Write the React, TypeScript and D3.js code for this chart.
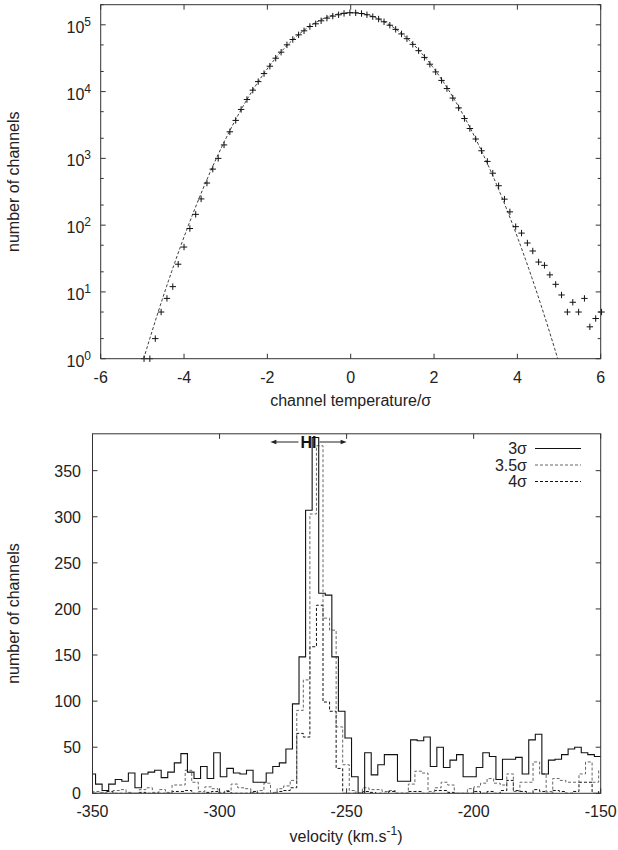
import React from 'react';
import * as d3 from 'd3';

// ---- upper panel: distribution of channel temperatures ----
const TEMP_SIGMA = [
  -4.96, -4.82, -4.69, -4.55, -4.41, -4.27, -4.14, -4.0, -3.86, -3.72,
  -3.59, -3.45, -3.31, -3.18, -3.04, -2.9, -2.76, -2.63, -2.49, -2.35,
  -2.22, -2.08, -1.94, -1.8, -1.67, -1.53, -1.39, -1.25, -1.12, -0.98,
  -0.84, -0.71, -0.57, -0.43, -0.29, -0.16, -0.02, 0.12, 0.26, 0.39,
  0.53, 0.67, 0.8, 0.94, 1.08, 1.22, 1.35, 1.49, 1.63, 1.77,
  1.9, 2.04, 2.18, 2.31, 2.45, 2.59, 2.73, 2.86, 3.0, 3.14,
  3.28, 3.41, 3.55, 3.69, 3.82, 3.96, 4.1, 4.24, 4.37, 4.51,
  4.65, 4.78, 4.92, 5.06, 5.2, 5.33, 5.47, 5.61, 5.74, 5.88, 6.02,
];
const TEMP_COUNTS = [
  1, 1, 2, 5, 8, 12, 26, 47, 89, 145,
  247, 427, 690, 1000, 1590, 2500, 3700, 5400, 7600, 10500,
  14100, 18600, 24000, 31600, 38900, 50100, 60300, 70800, 81300, 94400,
  103500, 114800, 125900, 134900, 141300, 148000, 151500, 151000, 147500, 141500,
  132500, 122000, 111000, 98500, 85500, 73000, 62000, 51000, 41000, 32500,
  25700, 19700, 14700, 11100, 8000, 5700, 3950, 2800, 1950, 1300,
  900, 600, 389, 245, 158, 95, 76, 54, 41, 28,
  25, 18, 13, 9, 5, 7, 5, 8, 3, 4, 5,
];
// Gaussian fit: amplitude and width (in units of sigma)
const FIT_AMPLITUDE = 1.52e5;
const FIT_WIDTH = 1.017;
const TEMP_X_TICKS = [-6, -4, -2, 0, 2, 4, 6];
const TEMP_Y_DECADES = [0, 1, 2, 3, 4, 5];
const TEMP_Y_MINOR = [2, 5];

// ---- lower panel: velocity histograms of channels above threshold ----
const BIN_WIDTH = 2.583;
const SOLID_FIRST_EDGE = -351.38;
const DASHED_FIRST_EDGE = -349.69;
const COUNTS_3SIGMA = [
  21, 10, 3, 10, 15, 13, 22, 6, 21, 23,
  25, 17, 23, 33, 43, 23, 16, 29, 16, 44,
  18, 27, 22, 21, 25, 12, 12, 22, 29, 33,
  48, 97, 148, 307, 386, 217, 215, 148, 89, 60,
  18, 0, 44, 20, 31, 42, 42, 13, 13, 58,
  57, 61, 29, 50, 28, 36, 42, 18, 18, 28,
  44, 40, 15, 37, 37, 39, 21, 58, 64, 21,
  36, 37, 42, 48, 50, 44, 42, 40,
];
const COUNTS_35SIGMA = [
  2, 1, 0, 3, 4, 1, 0, 4, 6, 1,
  4, 1, 9, 9, 25, 12, 2, 7, 5, 1,
  3, 10, 6, 5, 1, 3, 11, 1, 5, 8,
  14, 90, 123, 303, 377, 190, 177, 72, 31, 3,
  0, 6, 4, 4, 2, 3, 0, 0, 10, 24,
  22, 2, 6, 12, 9, 0, 0, 5, 7, 11,
  16, 11, 9, 21, 2, 12, 12, 34, 21, 2,
  16, 14, 12, 12, 21, 34, 12, 25,
];
const COUNTS_4SIGMA = [
  0, 0, 2, 0, 0, 0, 0, 1, 0, 0,
  0, 0, 2, 2, 3, 0, 0, 1, 2, 0,
  2, 0, 0, 0, 2, 0, 0, 0, 2, 3,
  6, 65, 61, 159, 204, 99, 89, 27, 0, 0,
  0, 2, 1, 0, 0, 2, 0, 0, 2, 2,
  0, 0, 3, 3, 1, 0, 0, 0, 2, 0,
  2, 0, 3, 14, 3, 2, 0, 4, 2, 0,
  3, 2, 0, 2, 12, 12, 0, 3,
];
const VEL_TICKS = [-350, -300, -250, -200, -150];
const CHAN_TICKS = [0, 50, 100, 150, 200, 250, 300, 350];
const HI_RANGE = [-280, -250];
const LEGEND_LABELS = ['3σ', '3.5σ', '4σ'];

const FONT = '"Liberation Sans", Arial, Helvetica, sans-serif';
const FRAME = '#333';
const FS = 16;

function stepPath(
  first: number,
  values: number[],
  x: d3.ScaleLinear<number, number>,
  y: d3.ScaleLinear<number, number>,
) {
  const p = d3.path();
  p.moveTo(x(first), y(0));
  values.forEach((v, i) => {
    const x0 = x(first + i * BIN_WIDTH);
    const x1 = x(first + (i + 1) * BIN_WIDTH);
    p.lineTo(x0, y(v));
    p.lineTo(x1, y(v));
  });
  return p.toString();
}

export default function App() {
  // upper panel scales
  const tx = d3.scaleLinear().domain([-6, 6]).range([100.7, 600.7]);
  const ty = d3.scaleLog().domain([1, 2e5]).range([358.7, 4.7]);
  const [tL, tR] = tx.range();
  const [tB, tT] = ty.range();

  const xEdge = FIT_WIDTH * Math.sqrt(2 * Math.log(FIT_AMPLITUDE));
  const fitPts: [number, number][] = d3
    .range(-xEdge, xEdge + 1e-9, xEdge / 200)
    .map((s) => [s, FIT_AMPLITUDE * Math.exp(-(s * s) / (2 * FIT_WIDTH * FIT_WIDTH))]);
  const fitLine = d3
    .line<[number, number]>()
    .x((d) => tx(d[0]))
    .y((d) => ty(Math.max(1, d[1])));

  const minorVals: number[] = [];
  TEMP_Y_DECADES.forEach((d) =>
    TEMP_Y_MINOR.forEach((m) => {
      const v = m * Math.pow(10, d);
      if (v <= 2e5) minorVals.push(v);
    }),
  );

  // lower panel scales
  const vx = d3.scaleLinear().domain([-350, -150]).range([92.5, 600.7]);
  const cy = d3.scaleLinear().domain([0, 390]).range([793.3, 433.8]);
  const [bL, bR] = vx.range();
  const [bB, bT] = cy.range();

  const series = [
    { first: SOLID_FIRST_EDGE, values: COUNTS_3SIGMA, stroke: '#111', dash: undefined, w: 1.1 },
    { first: DASHED_FIRST_EDGE, values: COUNTS_35SIGMA, stroke: '#666', dash: '3,2', w: 1 },
    { first: DASHED_FIRST_EDGE, values: COUNTS_4SIGMA, stroke: '#111', dash: '3,2', w: 1 },
  ];

  const hiY = 442;
  const hiL = vx(HI_RANGE[0]);
  const hiR = vx(HI_RANGE[1]);

  return (
    <svg
      width={618}
      height={850}
      style={{ position: 'absolute', left: 0, top: 0, background: '#fff' }}
      fontFamily={FONT}
    >
      <defs>
        <clipPath id="topClip">
          <rect x={tL} y={tT} width={tR - tL} height={tB - tT} />
        </clipPath>
        <clipPath id="botClip">
          <rect x={bL} y={bT} width={bR - bL} height={bB - bT} />
        </clipPath>
      </defs>
      <rect x={0} y={0} width={618} height={850} fill="#fff" />

      {/* ===== upper panel ===== */}
      <g>
        {TEMP_X_TICKS.map((t) => (
          <g key={'tx' + t}>
            <line x1={tx(t)} x2={tx(t)} y1={tB} y2={tB - 5} stroke={FRAME} />
            <line x1={tx(t)} x2={tx(t)} y1={tT} y2={tT + 5} stroke={FRAME} />
            <text x={tx(t)} y={383} textAnchor="middle" fontSize={FS} fill="#222">
              {t}
            </text>
          </g>
        ))}
        {TEMP_Y_DECADES.map((d) => {
          const y = ty(Math.pow(10, d));
          return (
            <g key={'ty' + d}>
              <line x1={tL} x2={tL + 5} y1={y} y2={y} stroke={FRAME} />
              <line x1={tR} x2={tR - 5} y1={y} y2={y} stroke={FRAME} />
              <text x={91} y={y + 8} textAnchor="end" fontSize={FS} fill="#222">
                10
                <tspan dy={-7} fontSize={12}>
                  {d}
                </tspan>
              </text>
            </g>
          );
        })}
        {minorVals.map((v) => (
          <g key={'tm' + v}>
            <line x1={tL} x2={tL + 3} y1={ty(v)} y2={ty(v)} stroke={FRAME} />
            <line x1={tR} x2={tR - 3} y1={ty(v)} y2={ty(v)} stroke={FRAME} />
          </g>
        ))}
        <path
          d={fitLine(fitPts) ?? ''}
          fill="none"
          stroke="#222"
          strokeWidth={0.9}
          strokeDasharray="3,2"
          clipPath="url(#topClip)"
        />
        {TEMP_SIGMA.map((s, i) => {
          const cx = tx(s);
          const cyv = ty(TEMP_COUNTS[i]);
          return (
            <path
              key={'pt' + i}
              d={`M${cx - 3.2},${cyv}H${cx + 3.2}M${cx},${cyv - 3.2}V${cyv + 3.2}`}
              stroke="#111"
              strokeWidth={1}
            />
          );
        })}
        <rect x={tL} y={tT} width={tR - tL} height={tB - tT} fill="none" stroke={FRAME} strokeWidth={1} />
        <text x={(tL + tR) / 2} y={406} textAnchor="middle" fontSize={FS} fill="#222">
          channel temperature/σ
        </text>
        <text
          transform={`translate(19,${(tT + tB) / 2}) rotate(-90)`}
          textAnchor="middle"
          fontSize={FS}
          fill="#222"
        >
          number of channels
        </text>
      </g>

      {/* ===== lower panel ===== */}
      <g>
        {VEL_TICKS.map((t) => (
          <g key={'vx' + t}>
            <line x1={vx(t)} x2={vx(t)} y1={bB} y2={bB - 5} stroke={FRAME} />
            <line x1={vx(t)} x2={vx(t)} y1={bT} y2={bT + 5} stroke={FRAME} />
            <text x={vx(t)} y={817} textAnchor="middle" fontSize={FS} fill="#222">
              {t}
            </text>
          </g>
        ))}
        {CHAN_TICKS.map((t) => (
          <g key={'cy' + t}>
            <line x1={bL} x2={bL + 5} y1={cy(t)} y2={cy(t)} stroke={FRAME} />
            <line x1={bR} x2={bR - 5} y1={cy(t)} y2={cy(t)} stroke={FRAME} />
            <text x={81} y={cy(t) + 6} textAnchor="end" fontSize={FS} fill="#222">
              {t}
            </text>
          </g>
        ))}
        <g clipPath="url(#botClip)">
          {series
            .slice()
            .reverse()
            .map((s, i) => (
              <path
                key={'h' + i}
                d={stepPath(s.first, s.values, vx, cy)}
                fill="none"
                stroke={s.stroke}
                strokeWidth={s.w}
                strokeDasharray={s.dash}
              />
            ))}
        </g>
        <rect x={bL} y={bT} width={bR - bL} height={bB - bT} fill="none" stroke={FRAME} strokeWidth={1} />

        {/* HI velocity range marker */}
        <text x={(hiL + hiR) / 2} y={hiY + 6} textAnchor="middle" fontSize={16} fontWeight="bold" fill="#111">
          HI
        </text>
        <line x1={(hiL + hiR) / 2 - 10} x2={hiL + 5} y1={hiY} y2={hiY} stroke="#222" />
        <path d={`M${hiL},${hiY}l6,-2.2v4.4z`} fill="#222" />
        <line x1={(hiL + hiR) / 2 + 11} x2={hiR - 5} y1={hiY} y2={hiY} stroke="#222" />
        <path d={`M${hiR},${hiY}l-6,-2.2v4.4z`} fill="#222" />

        {/* legend */}
        {series.map((s, i) => {
          const y = 448.5 + i * 16.5;
          return (
            <g key={'lg' + i}>
              <text x={527} y={y + 5.5} textAnchor="end" fontSize={FS} fill="#222">
                {LEGEND_LABELS[i]}
              </text>
              <line
                x1={535}
                x2={581}
                y1={y}
                y2={y}
                stroke={s.stroke}
                strokeWidth={s.w}
                strokeDasharray={s.dash}
              />
            </g>
          );
        })}

        <text x={346} y={842} textAnchor="middle" fontSize={FS} fill="#222">
          velocity (km.s
          <tspan dy={-7} fontSize={12}>
            -1
          </tspan>
          <tspan dy={7}>)</tspan>
        </text>
        <text
          transform={`translate(19,${(bT + bB) / 2}) rotate(-90)`}
          textAnchor="middle"
          fontSize={FS}
          fill="#222"
        >
          number of channels
        </text>
      </g>
    </svg>
  );
}
